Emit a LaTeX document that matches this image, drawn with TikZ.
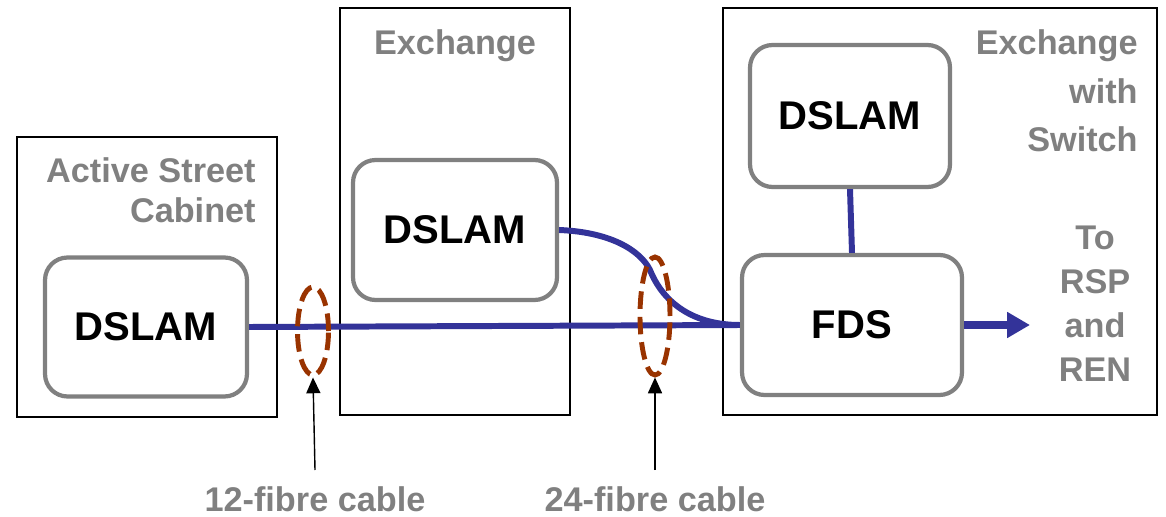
\documentclass[tikz,border=0pt]{standalone}
\usepackage{fontspec}
\setmainfont{Liberation Sans}
\usetikzlibrary{shapes.geometric,arrows.meta}
\definecolor{fiber}{HTML}{333399}
\definecolor{cable}{HTML}{993300}
\definecolor{lbl}{HTML}{808080}
\tikzset{
  site/.style={draw=black,line width=1.1pt},
  dev/.style={draw=lbl,line width=2.4pt,rounded corners=0.45cm,fill=white,
    font=\fontsize{22.8}{27}\selectfont\bfseries,text=black},
  fibre/.style={draw=fiber,line width=3.4pt},
  ring/.style={ellipse,draw=cable,line width=2.8pt,dash pattern=on 10pt off 4.5pt,inner sep=0pt},
  pointer/.style={draw=black,line width=0.8pt,-{Triangle[length=9pt,width=8pt]}},
  glabel/.style={text=lbl,font=\fontsize{19.5}{27}\selectfont\bfseries,inner sep=0pt}
}
\begin{document}
\begin{tikzpicture}[x=0.02cm,y=-0.02cm]
\useasboundingbox (0,0) rectangle (1166,517);
% sites
\draw[site] (17,137) rectangle (277,417);
\draw[site] (340,8) rectangle (570,415);
\draw[site] (723,8) rectangle (1157,415);
\node[glabel,align=right,anchor=north east,font=\fontsize{19.5}{22.7}\selectfont\bfseries] (l1) at (256,157) {Active Street\\Cabinet};
\node[glabel,anchor=north] (l2) at (455,29) {Exchange};
\node[glabel,align=right,anchor=north east,font=\fontsize{19.5}{27.8}\selectfont\bfseries] (l3) at (1138,29) {Exchange\\with\\Switch};
% devices
\node[dev,minimum width=4.04cm,minimum height=2.78cm] (d1) at (146,327) {DSLAM};
\node[dev,minimum width=4.08cm,minimum height=2.8cm] (d2) at (455,230) {DSLAM};
\node[dev,minimum width=4.0cm,minimum height=2.84cm] (d3) at (850,116) {DSLAM};
\node[dev,minimum width=4.4cm,minimum height=2.8cm] (fds) at (852,325) {FDS};
% fibres
\draw[fibre] (d1.east) -- (fds.west);
\draw[fibre] (d2.east) .. controls (610,232) and (640,250) .. (650,270)
  .. controls (662,300) and (690,325) .. (fds.west);
\draw[fibre] (d3.south) -- (fds.north);
\coordinate (out) at (1030,325);
\draw[draw=fiber,line width=4.5pt,-{Triangle[length=13pt,width=14pt]}] (fds.east) -- (out);
\node[glabel,align=center,anchor=north,font=\fontsize{19.5}{25}\selectfont\bfseries] (l4) at (1095,226) {To\\RSP\\and\\REN};
% cables
\node[ring,minimum width=0.62cm,minimum height=1.76cm] (e1) at (313,331) {};
\node[ring,minimum width=0.6cm,minimum height=2.36cm] (e2) at (655,316) {};
\node[glabel,anchor=north] (c1) at (315,486) {12-fibre cable};
\node[glabel,anchor=north] (c2) at (655,486) {24-fibre cable};
\coordinate (p1) at (315,470);
\coordinate (p2) at (655,470);
\draw[pointer] (p1) -- (e1.south);
\draw[pointer] (p2) -- (e2.south);
\end{tikzpicture}
\end{document}
